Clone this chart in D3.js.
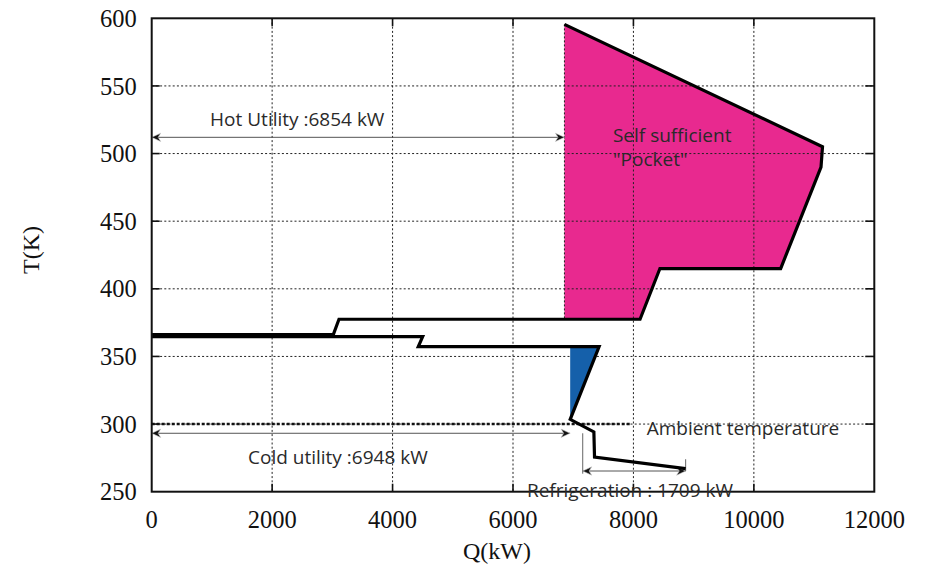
<!DOCTYPE html>
<html>
<head>
<meta charset="utf-8">
<script src="https://cdn.jsdelivr.net/npm/d3@7"></script>
<style>
  html, body { margin: 0; padding: 0; background: #fff; }
  svg { display: block; }
  .tick-label { font-family: "Liberation Serif", "Times New Roman", serif; font-size: 24.5px; fill: #111; }
  .axis-title { font-family: "Liberation Serif", "Times New Roman", serif; font-size: 24px; fill: #111; }
  .note { font-family: "Open Sans", "Noto Sans", sans-serif; font-size: 19px; fill: #2a2a2a; }
</style>
</head>
<body>
<svg id="chart" width="925" height="569"></svg>
<script>
// Axis ticks
const qTicks = [0, 2000, 4000, 6000, 8000, 10000, 12000];
const tTicks = [250, 300, 350, 400, 450, 500, 550, 600];

// Grand composite curve, Q (kW) vs T (K)
const upperCurve = [
  [6854, 595.5], [11140, 505], [11115, 490], [10445, 415], [8440, 415],
  [8110, 377.5], [3110, 377.5], [3016, 366.2], [0, 366.2]
];
const lowerCurve = [
  [0, 364.6], [4500, 364.6], [4427, 357.2], [7430, 357.2], [6950, 303.5],
  [7343, 294.2], [7354, 275.5], [8867, 267]
];

// Self sufficient pocket above the pinch
const pocketArea = [
  [6854, 595.5], [11140, 505], [11115, 490], [10445, 415], [8440, 415],
  [8110, 377.5], [6854, 377.5]
];
// Pocket reaching down to ambient temperature
const ambientPocketArea = [[6950, 357.2], [7430, 357.2], [6950, 303.5]];

// Utilities and levels
const hotUtility = 6854;      // kW
const coldUtility = 6948;     // kW
const refrigeration = 1709;   // kW
const ambientT = 300;         // K
const ambientLineEnd = 7950;  // kW
const hotArrowT = 512;
const coldArrowT = 293.2;
const refrigArrowT = 265.3;

const svg = d3.select("#chart");
const margin = { left: 151.7, top: 18.3, right: 925 - 874.3, bottom: 569 - 491.7 };
const W = 925 - margin.left - margin.right;
const H = 569 - margin.top - margin.bottom;

const x = d3.scaleLinear().domain([0, 12000]).range([margin.left, margin.left + W]);
const y = d3.scaleLinear().domain([250, 600]).range([margin.top + H, margin.top]);

const line = d3.line().x(d => x(d[0])).y(d => y(d[1]));

const defs = svg.append("defs");
function arrowMarker(id, orient) {
  defs.append("marker")
    .attr("id", id)
    .attr("viewBox", "-1 -5 11 10")
    .attr("refX", 9).attr("refY", 0)
    .attr("markerWidth", 11).attr("markerHeight", 10)
    .attr("markerUnits", "userSpaceOnUse")
    .attr("orient", orient)
    .append("path")
    .attr("d", "M9,0 L0,-4.2 L2.6,0 L0,4.2 Z")
    .attr("fill", "#111")
    .attr("stroke", "#ccc")
    .attr("stroke-width", 0.6);
}
arrowMarker("arrowEnd", "auto");
arrowMarker("arrowStart", "auto-start-reverse");

// Pocket fill
svg.append("path")
  .attr("d", line(pocketArea) + "Z")
  .attr("fill", "#e8298f");

// Grid
const grid = svg.append("g")
  .attr("stroke", "#222")
  .attr("stroke-width", 1)
  .attr("stroke-dasharray", "2,2.2");
grid.selectAll(".vg").data(qTicks.slice(1, -1)).join("line")
  .attr("x1", d => x(d)).attr("x2", d => x(d))
  .attr("y1", margin.top).attr("y2", margin.top + H);
grid.selectAll(".hg").data(tTicks.slice(1, -1)).join("line")
  .attr("x1", margin.left).attr("x2", margin.left + W)
  .attr("y1", d => y(d)).attr("y2", d => y(d));

// Dotted guide at the hot utility boundary
svg.append("line")
  .attr("x1", x(hotUtility)).attr("x2", x(hotUtility))
  .attr("y1", y(upperCurve[0][1])).attr("y2", y(377.5))
  .attr("stroke", "#222").attr("stroke-width", 1).attr("stroke-dasharray", "2,2");

// Blue pocket
svg.append("path")
  .attr("d", line(ambientPocketArea) + "Z")
  .attr("fill", "#1560aa");

// Ambient temperature line
svg.append("line")
  .attr("x1", x(0)).attr("x2", x(ambientLineEnd))
  .attr("y1", y(ambientT)).attr("y2", y(ambientT))
  .attr("stroke", "#111").attr("stroke-width", 2.6).attr("stroke-dasharray", "3,2");

// Utility arrows
function arrow(q0, t0, q1, t1) {
  svg.append("line")
    .attr("x1", x(q0)).attr("y1", y(t0))
    .attr("x2", x(q1)).attr("y2", y(t1))
    .attr("stroke", "#555").attr("stroke-width", 1)
    .attr("marker-start", "url(#arrowStart)")
    .attr("marker-end", "url(#arrowEnd)");
}
arrow(0, hotArrowT, hotUtility, hotArrowT);
arrow(0, coldArrowT, coldUtility, coldArrowT);
const curveEnd = lowerCurve[lowerCurve.length - 1];
const refrigStart = curveEnd[0] - refrigeration;
arrow(refrigStart, refrigArrowT, curveEnd[0], refrigArrowT);
// Connector and end tick for the refrigeration span
svg.append("line")
  .attr("x1", x(refrigStart)).attr("x2", x(refrigStart))
  .attr("y1", y(coldArrowT)).attr("y2", y(refrigArrowT - 2))
  .attr("stroke", "#666").attr("stroke-width", 1);
svg.append("line")
  .attr("x1", x(curveEnd[0])).attr("x2", x(curveEnd[0]))
  .attr("y1", y(curveEnd[1] + 7)).attr("y2", y(refrigArrowT))
  .attr("stroke", "#666").attr("stroke-width", 1);

// Curves
[upperCurve, lowerCurve].forEach(c => {
  svg.append("path")
    .attr("d", line(c))
    .attr("fill", "none")
    .attr("stroke", "#000")
    .attr("stroke-width", 3.2)
    .attr("stroke-linejoin", "miter");
});

// Frame and inward ticks
svg.append("rect")
  .attr("x", margin.left).attr("y", margin.top)
  .attr("width", W).attr("height", H)
  .attr("fill", "none").attr("stroke", "#111").attr("stroke-width", 2);

const ticks = svg.append("g").attr("stroke", "#111").attr("stroke-width", 1.6);
qTicks.slice(1, -1).forEach(q => {
  ticks.append("line").attr("x1", x(q)).attr("x2", x(q)).attr("y1", margin.top).attr("y2", margin.top + 8);
  ticks.append("line").attr("x1", x(q)).attr("x2", x(q)).attr("y1", margin.top + H).attr("y2", margin.top + H - 8);
});
tTicks.slice(1, -1).forEach(t => {
  ticks.append("line").attr("x1", margin.left).attr("x2", margin.left + 8).attr("y1", y(t)).attr("y2", y(t));
  ticks.append("line").attr("x1", margin.left + W).attr("x2", margin.left + W - 9).attr("y1", y(t)).attr("y2", y(t));
});

// Tick labels
svg.append("g").selectAll("text").data(qTicks).join("text")
  .attr("class", "tick-label")
  .attr("x", d => x(d)).attr("y", margin.top + H + 36)
  .attr("text-anchor", "middle")
  .text(d => d);
svg.append("g").selectAll("text").data(tTicks).join("text")
  .attr("class", "tick-label")
  .attr("x", margin.left - 15).attr("y", d => y(d))
  .attr("dy", "0.35em")
  .attr("text-anchor", "end")
  .text(d => d);

// Axis titles
svg.append("text").attr("class", "axis-title")
  .attr("x", 497).attr("y", 559)
  .attr("text-anchor", "middle")
  .text("Q(kW)");
svg.append("text").attr("class", "axis-title")
  .attr("transform", "translate(39,250) rotate(-90)")
  .attr("text-anchor", "middle")
  .text("T(K)");

// Annotations
function note(q, t, s) {
  svg.append("text").attr("class", "note")
    .attr("x", x(q)).attr("y", y(t))
    .text(s);
}
note(970, 520.4, "Hot Utility :" + hotUtility + " kW");
note(7660, 508.5, "Self sufficient");
note(7660, 490.8, "\"Pocket\"");
note(8220, 292, "Ambient temperature");
note(1600, 270.5, "Cold utility :" + coldUtility + " kW");
note(6232, 246.1, "Refrigeration : " + refrigeration + " kW");
</script>
</body>
</html>
